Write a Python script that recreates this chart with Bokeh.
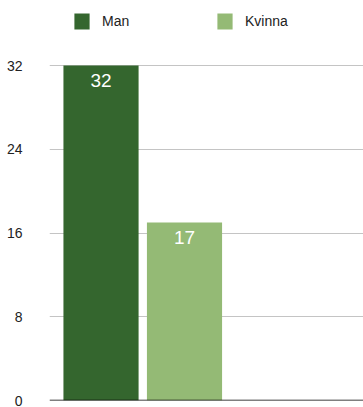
from bokeh.plotting import figure
from bokeh.models import Range1d, FixedTicker, Legend, LegendItem, Span, ColumnDataSource
from bokeh.core.properties import value
from bokeh.embed import file_html
from bokeh.resources import INLINE

categories = ["Man", "Kvinna"]
values = [32, 17]
colors = ["#34662e", "#94ba75"]
y_ticks = [0, 8, 16, 24, 32]

FONT = "Liberation Sans"

# frame spans full height so the legend (drawn in the frame) is not clipped;
# 32 sits 65px below the top of a 400px-tall frame
y_top = 32 * 400 / (400 - 65)

xs = list(range(len(categories)))
src = ColumnDataSource(dict(x=xs, top=values, color=colors, cat=categories,
                            label=[str(v) for v in values]))

p = figure(width=363, height=407, output_backend="svg", toolbar_location=None,
           x_range=Range1d(-0.617, 3.144), y_range=Range1d(0, y_top),
           min_border_left=49, min_border_right=0, min_border_top=0, min_border_bottom=7)
p.outline_line_color = None
p.background_fill_color = "white"
p.border_fill_color = "white"

p.xaxis.visible = False
p.xgrid.visible = False

p.yaxis.ticker = FixedTicker(ticks=y_ticks)
p.yaxis.axis_line_color = None
p.yaxis.major_tick_line_color = None
p.yaxis.minor_tick_line_color = None
p.yaxis.major_label_standoff = 21
p.yaxis.major_label_text_font = FONT
p.yaxis.major_label_text_font_size = "14px"
p.yaxis.major_label_text_color = "#222222"
p.ygrid.ticker = FixedTicker(ticks=y_ticks)
p.ygrid.grid_line_color = "#c4c4c4"
p.ygrid.grid_line_width = 1

renderers = []
for i, c in enumerate(categories):
    r = p.vbar(x=[xs[i]], top=[values[i]], bottom=0, width=0.9, fill_color=colors[i],
               line_color=None)
    renderers.append(r)

p.text(x="x", y="top", text="label", source=src, text_align="center", text_baseline="top",
       y_offset=8, text_color="white", text_font=value(FONT), text_font_size="19px")

base = Span(location=0, dimension="width", line_color="black", line_width=1.5)
p.add_layout(base)

for i, c in enumerate(categories):
    leg = Legend(items=[LegendItem(label=c, renderers=[renderers[i]])],
                 location=(23 + 143 * i, 369), orientation="horizontal",
                 glyph_width=19, glyph_height=20, label_height=20, label_standoff=11,
                 padding=0, margin=0, border_line_color=None, background_fill_alpha=0,
                 label_text_font=FONT, label_text_font_size="14px",
                 label_text_color="#222222")
    p.add_layout(leg)

open("out.html", "w").write(file_html(p, INLINE))
